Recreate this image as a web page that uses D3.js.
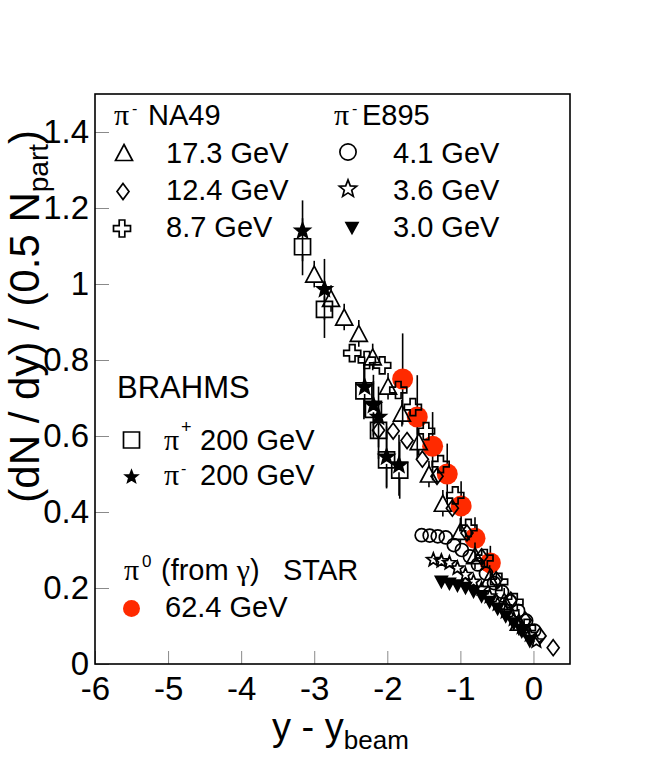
<!DOCTYPE html>
<html><head><meta charset="utf-8">
<script src="https://cdn.jsdelivr.net/npm/d3@7"></script>
<style>html,body{margin:0;padding:0;background:#fff}</style>
</head><body>
<svg id="c" width="664" height="760"></svg>
<script>
// ---- data ----
const xTicks = [-6, -5, -4, -3, -2, -1, 0];
const yTicks = [0, 0.2, 0.4, 0.6, 0.8, 1.0, 1.2, 1.4];

// NA49 pi- 17.3 GeV (open triangles)
const na49_173_x = [-3.00,-2.77,-2.59,-2.39,-2.20,-1.99,-1.80,-1.57,-1.43,-1.24,-1.00,-0.80,-0.60,-0.40,-0.20];
const na49_173_y = [1.026,0.962,0.913,0.870,0.808,0.731,0.660,0.585,0.500,0.423,0.349,0.285,0.225,0.165,0.110];
// NA49 pi- 12.4 GeV (open diamonds)
const na49_124_x = [-2.12,-1.92,-1.73,-1.52,-1.32,-1.11,-0.91,-0.71,-0.51,-0.31,-0.11,0.09,0.27];
const na49_124_y = [0.615,0.613,0.588,0.539,0.494,0.410,0.345,0.282,0.222,0.168,0.115,0.074,0.043];
// NA49 pi- 8.7 GeV (open crosses)
const na49_87_x = [-2.48,-2.28,-2.07,-1.85,-1.65,-1.47,-1.27,-1.07,-0.89,-0.67,-0.47,-0.26,-0.09];
const na49_87_y = [0.818,0.800,0.786,0.721,0.676,0.613,0.526,0.444,0.358,0.279,0.216,0.163,0.095];
// E895 pi- 4.1 GeV (open circles)
const e895_41_x = [-1.53,-1.42,-1.31,-1.20,-1.09,-0.98,-0.87,-0.76,-0.65,-0.54,-0.43,-0.32,-0.21,-0.10,0.01];
const e895_41_y = [0.339,0.338,0.336,0.333,0.313,0.300,0.283,0.262,0.238,0.213,0.190,0.165,0.140,0.114,0.088];
// E895 pi- 3.6 GeV (open stars)
const e895_36_x = [-1.37,-1.26,-1.15,-1.04,-0.93,-0.82,-0.71,-0.60,-0.49,-0.38,-0.27,-0.16,-0.05,0.04];
const e895_36_y = [0.274,0.271,0.266,0.252,0.235,0.217,0.198,0.178,0.158,0.138,0.118,0.097,0.077,0.060];
// E895 pi- 3.0 GeV (filled down triangles)
const e895_30_x = [-1.26,-1.15,-1.04,-0.93,-0.82,-0.71,-0.60,-0.49,-0.38,-0.27,-0.16,-0.05];
const e895_30_y = [0.216,0.211,0.206,0.200,0.190,0.178,0.163,0.145,0.125,0.106,0.085,0.060];
// BRAHMS 200 GeV pi+ (open squares) and pi- (filled stars)
const brahms_pip_x = [-3.16,-2.86,-2.32,-2.19,-2.12,-2.01,-1.83];
const brahms_pip_y = [1.098,0.933,0.719,0.670,0.615,0.537,0.510];
const brahms_pip_e = [0.075,0.075,0.075,0.075,0.075,0.075,0.075];
const brahms_pim_x = [-3.16,-2.86,-2.31,-2.19,-2.12,-2.01,-1.84];
const brahms_pim_y = [1.140,0.986,0.729,0.681,0.650,0.545,0.523];
const brahms_pim_e = [0.08,0.08,0.08,0.08,0.08,0.08,0.08];
// STAR pi0 62.4 GeV (red filled circles)
const star_x = [-1.79,-1.59,-1.38,-1.18,-0.99,-0.80,-0.59];
const star_y = [0.750,0.650,0.573,0.500,0.416,0.331,0.266];
const star_e = [0.12,0.11,0.09,0.08,0.065,0.055,0.045];

// ---- layout ----
const svg = d3.select('#c');
const SANS = "'Liberation Sans', Arial, Helvetica, sans-serif";
const SERIF = "'Liberation Serif', 'Times New Roman', serif";
const L = 95, R = 570, T = 94, B = 664;
const x = d3.scaleLinear().domain([-6, 0.5]).range([L, R]);
const y = d3.scaleLinear().domain([0, 1.5]).range([B, T]);
const RED = '#ff2a00';

// marker paths
function starPath(Ro, Ri) {
  let p = [];
  for (let i = 0; i < 10; i++) {
    const a = -Math.PI / 2 + i * Math.PI / 5;
    const r = i % 2 ? Ri : Ro;
    p.push([r * Math.cos(a), r * Math.sin(a)]);
  }
  return 'M' + p.map(q => q[0].toFixed(2) + ',' + q[1].toFixed(2)).join('L') + 'Z';
}
function crossPath(a, b) {
  return `M${-b},${-a}H${b}V${-b}H${a}V${b}H${b}V${a}H${-b}V${b}H${-a}V${-b}H${-b}Z`;
}
const M = {
  tri:   {d: 'M0,-8L8.5,8L-8.5,8Z', fill: 'none', half: 8},
  dia:   {d: 'M0,-8L6,0L0,8L-6,0Z', fill: 'none', half: 8},
  cross: {d: crossPath(8.5, 2.8), fill: 'none', half: 8.5},
  sq:    {d: 'M-8,-8H8V8H-8Z', fill: 'none', half: 8},
  fstar: {d: starPath(8, 3.4), fill: '#000', half: 7},
  ostar: {d: starPath(7, 3.0), fill: 'none', half: 6},
  circ:  {d: d3.arc()({innerRadius:0, outerRadius:6.5, startAngle:0, endAngle:2*Math.PI}), fill: 'none', half: 6.5},
  ftri:  {d: 'M-6,-5.5H6L0,5.5Z', fill: '#000', half: 5.5},
};

function series(xs, ys, type, errs) {
  const g = svg.append('g');
  const m = M[type];
  if (errs) {
    xs.forEach((xv, i) => {
      const cx = x(xv), cy = y(ys[i]);
      const top = y(ys[i] + errs[i]), bot = y(ys[i] - errs[i]);
      if (cy - m.half > top) g.append('line').attr('x1', cx).attr('x2', cx).attr('y1', top).attr('y2', cy - m.half).attr('stroke', '#000').attr('stroke-width', 1.6);
      if (bot > cy + m.half) g.append('line').attr('x1', cx).attr('x2', cx).attr('y1', cy + m.half).attr('y2', bot).attr('stroke', '#000').attr('stroke-width', 1.6);
    });
  }
  g.selectAll('path').data(xs.map((xv, i) => [xv, ys[i]])).enter().append('path')
    .attr('d', m.d)
    .attr('transform', d => `translate(${x(d[0])},${y(d[1])})`)
    .attr('fill', m.fill).attr('stroke', '#000').attr('stroke-width', 1.7)
    .attr('stroke-linejoin', 'miter');
}

// ---- axes ----
const fmt = d => String(+d.toFixed(1));
const xa = svg.append('g').attr('transform', `translate(0,${B})`)
  .call(d3.axisBottom(x).tickValues(xTicks).tickSizeInner(-13).tickSizeOuter(0).tickPadding(13).tickFormat(fmt));
const ya = svg.append('g').attr('transform', `translate(${L},0)`)
  .call(d3.axisLeft(y).tickValues(yTicks).tickSizeInner(-14).tickSizeOuter(0).tickPadding(6).tickFormat(fmt));
[xa, ya].forEach(a => {
  a.select('.domain').remove();
  a.selectAll('line').attr('stroke', '#8a8a8a').attr('stroke-width', 1);
  a.selectAll('text').attr('font-family', SANS).attr('font-size', 33).attr('fill', '#000');
});

// ---- data marks ----
const sg = svg.append('g');
star_x.forEach((xv, i) => {
  const cx = x(xv);
  sg.append('line').attr('x1', cx).attr('x2', cx).attr('y1', y(star_y[i] + star_e[i])).attr('y2', y(star_y[i] - star_e[i]))
    .attr('stroke', '#000').attr('stroke-width', 1.6);
});
sg.selectAll('circle').data(star_x.map((xv, i) => [xv, star_y[i]])).enter().append('circle')
  .attr('cx', d => x(d[0])).attr('cy', d => y(d[1])).attr('r', 10.5).attr('fill', RED);

series(e895_30_x, e895_30_y, 'ftri');
series(e895_36_x, e895_36_y, 'ostar');
series(e895_41_x, e895_41_y, 'circ');
series(na49_124_x, na49_124_y, 'dia');
series(na49_87_x, na49_87_y, 'cross');
series(na49_173_x, na49_173_y, 'tri', na49_173_x.map(() => 0.035));
series(brahms_pip_x, brahms_pip_y, 'sq', brahms_pip_e);
series(brahms_pim_x, brahms_pim_y, 'fstar', brahms_pim_e);

// frame
svg.append('rect').attr('x', L).attr('y', T).attr('width', R - L).attr('height', B - T)
  .attr('fill', 'none').attr('stroke', '#000').attr('stroke-width', 1.6);

// ---- axis titles ----
const xt = svg.append('text').attr('x', 272).attr('y', 740).attr('font-family', SANS).attr('font-size', 38);
xt.append('tspan').text('y - y');
xt.append('tspan').attr('font-size', 26).attr('dy', 9).text('beam');

const yt = svg.append('text').attr('transform', 'translate(39,130) rotate(-90)')
  .attr('text-anchor', 'end').attr('font-family', SANS).attr('font-size', 42);
yt.append('tspan').text('(dN / dy) / (0.5 N');
yt.append('tspan').attr('font-size', 28).attr('dy', 9).text('part');
yt.append('tspan').attr('dy', -9).text(')');

// ---- legend ----
const FS = 29;
function txt(xp, yp, s, opts = {}) {
  return svg.append('text').attr('x', xp).attr('y', yp).attr('font-family', opts.serif ? SERIF : SANS)
    .attr('font-size', opts.fs || FS).attr('fill', '#000').text(s);
}
function mk(type, cx, cy, sc = 1) {
  const m = M[type];
  svg.append('path').attr('d', m.d).attr('transform', `translate(${cx},${cy}) scale(${sc})`)
    .attr('fill', m.fill).attr('stroke', '#000').attr('stroke-width', 1.7 / sc);
}
// NA49 column
txt(114, 125, 'π', {serif: true, fs: 30});
txt(132, 114, '-', {fs: 16});
txt(148, 125, 'NA49');
mk('tri', 124, 152.5); txt(166, 163, '17.3 GeV');
mk('dia', 123, 191.5); txt(166, 200, '12.4 GeV');
mk('cross', 122, 228.5); txt(166, 237, '8.7 GeV');
// E895 column
txt(334, 125, 'π', {serif: true, fs: 30});
txt(352, 114, '-', {fs: 16});
txt(362, 125, 'E895');
mk('circ', 348, 152, 1.25); txt(393, 163, '4.1 GeV');
mk('ostar', 348, 189, 1.3); txt(393, 200, '3.6 GeV');
mk('ftri', 352, 228); txt(393, 237, '3.0 GeV');
// BRAHMS
txt(117, 398, 'BRAHMS', {fs: 31});
mk('sq', 131.5, 440);
txt(164, 450, 'π', {serif: true, fs: 30});
txt(181, 433, '+', {fs: 18});
txt(200, 450, '200 GeV');
mk('fstar', 131.5, 477, 0.8);
txt(164, 485, 'π', {serif: true, fs: 30});
txt(181, 474, '-', {fs: 16});
txt(200, 485, '200 GeV');
// STAR
txt(124, 580, 'π', {serif: true, fs: 30});
txt(142, 567, '0', {fs: 17});
const ft = txt(161, 580, '(from ');
ft.append('tspan').attr('font-family', SERIF).attr('font-size', 30).text('γ');
ft.append('tspan').text(')');
txt(283, 580, 'STAR');
svg.append('circle').attr('cx', 131.5).attr('cy', 608.5).attr('r', 8.5).attr('fill', RED);
txt(165, 617, '62.4 GeV');
</script>
</body></html>
